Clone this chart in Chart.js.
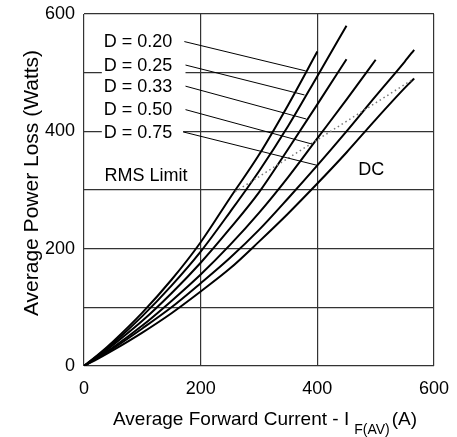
<!DOCTYPE html>
<html><head><meta charset="utf-8">
<script src="https://cdn.jsdelivr.net/npm/chart.js@4.4.0/dist/chart.umd.min.js"></script>
<style>html,body{margin:0;padding:0;background:#fff}#wrap{width:457px;height:437px}</style>
</head><body><div id="wrap"><canvas id="c" width="457" height="437"></canvas></div>
<script>
const FONT = '"Liberation Sans", Arial, Helvetica, sans-serif';

// ---- data ----
const xTicks = [0, 200, 400, 600];
const yTickLabels = [0, 200, 400, 600];
const seriesNames = ['D = 0.20', 'D = 0.25', 'D = 0.33', 'D = 0.50', 'D = 0.75', 'DC'];

const currentD020 = [0, 25, 50, 100, 150, 200, 250, 300, 350, 400];
const lossD020    = [0, 20, 42, 91, 147, 211, 286, 360, 445, 536];
const currentD025 = [0, 25, 50, 100, 150, 200, 250, 300, 350, 400, 450];
const lossD025    = [0, 19, 39, 85, 137, 195, 262, 332, 409, 494, 580];
const currentD033 = [0, 25, 50, 100, 150, 200, 250, 300, 350, 400, 450];
const lossD033    = [0, 17, 36, 77, 124, 176, 234, 296, 370, 446, 523];
const currentD050 = [0, 25, 50, 100, 150, 200, 250, 300, 350, 400, 450, 500];
const lossD050    = [0, 16, 32, 69, 111, 156, 206, 261, 322, 388, 454, 522];
const currentD075 = [0, 25, 50, 100, 150, 200, 250, 300, 350, 400, 450, 500, 550, 566];
const lossD075    = [0, 15, 30, 64, 100, 141, 184, 232, 286, 342, 400, 460, 519, 539];
const currentDC   = [0, 25, 50, 100, 150, 200, 250, 300, 350, 400, 450, 500, 550, 566];
const lossDC      = [0, 13, 27, 57, 90, 127, 166, 212, 260, 311, 364, 420, 474, 490];

const rmsCurrent = [259, 566];
const rmsLoss    = [297, 490];

// leader lines from each D label to its curve
const leaderStartCurrent = [172, 174, 174, 174, 170];
const leaderStartLoss    = [553, 513, 477, 437, 399];
const leaderEndCurrent   = [380, 378, 381, 392, 400];
const leaderEndLoss      = [503, 462, 421, 378, 342];

// ---- annotation placement (data units) ----
const labelAnchors = [
  {text: 'D = 0.20', x: 34, y: 552},
  {text: 'D = 0.25', x: 34, y: 512},
  {text: 'D = 0.33', x: 34, y: 476},
  {text: 'D = 0.50', x: 34, y: 436},
  {text: 'D = 0.75', x: 34, y: 397}
];
const freeLabels = [
  {text: 'RMS Limit', x: 35, y: 323},
  {text: 'DC', x: 470, y: 334}
];

function pts(xs, ys) { return xs.map((v, i) => ({x: v, y: ys[i]})); }

const curves = [
  [currentD020, lossD020], [currentD025, lossD025], [currentD033, lossD033],
  [currentD050, lossD050], [currentD075, lossD075], [currentDC, lossDC]
];

const datasets = [];
leaderStartCurrent.forEach((sx, i) => {
  datasets.push({
    label: 'leader ' + seriesNames[i],
    data: pts([sx, leaderEndCurrent[i]], [leaderStartLoss[i], leaderEndLoss[i]]),
    showLine: true, borderColor: '#000', borderWidth: 1, pointRadius: 0, tension: 0
  });
});
datasets.push({
  label: 'RMS Limit',
  data: pts(rmsCurrent, rmsLoss),
  showLine: true, borderColor: '#777', borderWidth: 1.5, borderDash: [1.5, 3],
  pointRadius: 0, tension: 0
});
curves.forEach((c, i) => {
  datasets.push({
    label: seriesNames[i],
    data: pts(c[0], c[1]),
    showLine: true, borderColor: '#000', borderWidth: 2, pointRadius: 0,
    cubicInterpolationMode: 'monotone'
  });
});

const overlay = {
  id: 'overlay',
  beforeDatasetsDraw(chart) {
    const {ctx, scales: {x, y}} = chart;
    ctx.save();
    ctx.font = '18px ' + FONT;
    ctx.textBaseline = 'middle';
    ctx.textAlign = 'left';
    labelAnchors.forEach((l, i) => {
      const px = x.getPixelForValue(l.x), py = y.getPixelForValue(l.y);
      const lx = x.getPixelForValue(leaderStartCurrent[i]);
      ctx.fillStyle = '#fff';
      ctx.fillRect(px - 2, py - 9, lx - px + 2, 18);
      ctx.fillStyle = '#000';
      ctx.fillText(l.text, px, py);
    });
    freeLabels.forEach(l => {
      ctx.fillStyle = '#000';
      ctx.fillText(l.text, x.getPixelForValue(l.x), y.getPixelForValue(l.y));
    });
    ctx.restore();
  },
  afterDraw(chart) {
    const {ctx} = chart;
    ctx.save();
    ctx.fillStyle = '#000';
    ctx.textBaseline = 'middle';
    // y title
    ctx.save();
    ctx.translate(32, 183);
    ctx.rotate(-Math.PI / 2);
    ctx.textAlign = 'center';
    ctx.font = '21px ' + FONT;
    ctx.fillText('Average Power Loss (Watts)', 0, 0);
    ctx.restore();
    // x title with subscript
    ctx.textAlign = 'left';
    ctx.font = '19px ' + FONT;
    const main = 'Average Forward Current - I';
    let cx = 113;
    ctx.fillText(main, cx, 420);
    cx += ctx.measureText(main).width + 5;
    ctx.font = '14px ' + FONT;
    ctx.fillText('F(AV)', cx, 430);
    cx += ctx.measureText('F(AV)').width + 2;
    ctx.font = '19px ' + FONT;
    ctx.fillText('(A)', cx, 420);
    ctx.restore();
  }
};

new Chart(document.getElementById('c'), {
  type: 'scatter',
  data: {datasets},
  options: {
    responsive: false,
    animation: false,
    layout: {padding: {top: 14, right: 23, left: 0, bottom: 0}},
    plugins: {legend: {display: false}, tooltip: {enabled: false}},
    scales: {
      x: {
        type: 'linear', position: 'bottom', min: 0, max: 600,
        ticks: {stepSize: 200, color: '#000', padding: 12, font: {size: 18, family: FONT},
          callback: v => xTicks.includes(v) ? String(v) : ''},
        grid: {color: '#333', lineWidth: 1.2, drawTicks: false},
        border: {display: false},
        afterFit(s) { s.height = 71; s.paddingLeft = 0; s.paddingRight = 0; }
      },
      y: {
        type: 'linear', min: 0, max: 600,
        ticks: {stepSize: 100, color: '#000', padding: 9, font: {size: 18, family: FONT},
          callback: v => yTickLabels.includes(v) ? String(v) : ''},
        grid: {color: '#333', lineWidth: 1.2, drawTicks: false},
        border: {display: false},
        afterFit(s) { s.width = 84; s.paddingTop = 0; s.paddingBottom = 0; }
      }
    }
  },
  plugins: [overlay]
});
</script>
</body></html>
